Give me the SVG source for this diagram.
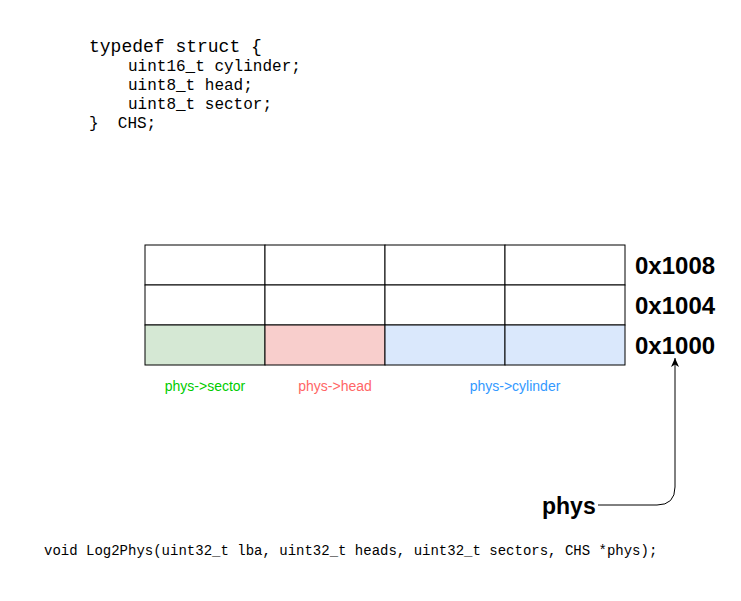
<svg xmlns="http://www.w3.org/2000/svg" width="741" height="601" viewBox="0 0 741 601">
<style>
.code{font-family:"Liberation Mono","Courier New",monospace;fill:#000}
.cell{stroke:#000;stroke-width:1}
.addr{font-family:"Liberation Sans",Arial,Helvetica,sans-serif;font-weight:bold;font-size:24px;fill:#000}
.lbl{font-family:"Liberation Sans",Arial,Helvetica,sans-serif;font-size:14px;text-anchor:middle}
</style>
<defs>
<marker id="arr" markerWidth="10" markerHeight="10" refX="9" refY="5" orient="auto" markerUnits="userSpaceOnUse" viewBox="0 0 10 10">
<path d="M9 5 L0 1 L2.5 5 L0 9 Z" fill="#000"/>
</marker>
</defs>
<rect width="741" height="601" fill="#fff"/>
<g id="struct">
<text class="code" x="89" y="52" font-size="18">typedef struct {</text>
<text class="code" x="128" y="71" font-size="16">uint16_t cylinder;</text>
<text class="code" x="128" y="90" font-size="16">uint8_t head;</text>
<text class="code" x="128" y="109" font-size="16">uint8_t sector;</text>
<text class="code" x="89" y="128" font-size="16" xml:space="preserve">}  CHS;</text>
</g>
<g id="memory">
<rect class="cell" x="145" y="245" width="120" height="40" fill="#fff"/>
<rect class="cell" x="265" y="245" width="120" height="40" fill="#fff"/>
<rect class="cell" x="385" y="245" width="120" height="40" fill="#fff"/>
<rect class="cell" x="505" y="245" width="120" height="40" fill="#fff"/>
<rect class="cell" x="145" y="285" width="120" height="40" fill="#fff"/>
<rect class="cell" x="265" y="285" width="120" height="40" fill="#fff"/>
<rect class="cell" x="385" y="285" width="120" height="40" fill="#fff"/>
<rect class="cell" x="505" y="285" width="120" height="40" fill="#fff"/>
<rect class="cell" x="145" y="325" width="120" height="40" fill="#d5e8d4"/>
<rect class="cell" x="265" y="325" width="120" height="40" fill="#f8cecc"/>
<rect class="cell" x="385" y="325" width="120" height="40" fill="#dae8fc"/>
<rect class="cell" x="505" y="325" width="120" height="40" fill="#dae8fc"/>
</g>
<g id="addresses">
<text class="addr" x="635" y="274">0x1008</text>
<text class="addr" x="635" y="314">0x1004</text>
<text class="addr" x="635" y="354">0x1000</text>
</g>
<g id="labels">
<text class="lbl" x="205" y="391" fill="#00cc00">phys-&gt;sector</text>
<text class="lbl" x="335" y="391" fill="#ff6666">phys-&gt;head</text>
<text class="lbl" x="515" y="391" fill="#3399ff">phys-&gt;cylinder</text>
</g>
<g id="phys">
<text x="542" y="514" font-family="'Liberation Sans',Arial,Helvetica,sans-serif" font-weight="bold" font-size="23">phys</text>
</g>
<g id="connectors">
<path d="M598 505 L657 505 Q675 505 675 487 L675 358" fill="none" stroke="#000" stroke-width="1" marker-end="url(#arr)"/>
</g>
<g id="signature">
<text class="code" x="44" y="555" font-size="14">void Log2Phys(uint32_t lba, uint32_t heads, uint32_t sectors, CHS *phys);</text>
</g>
</svg>
